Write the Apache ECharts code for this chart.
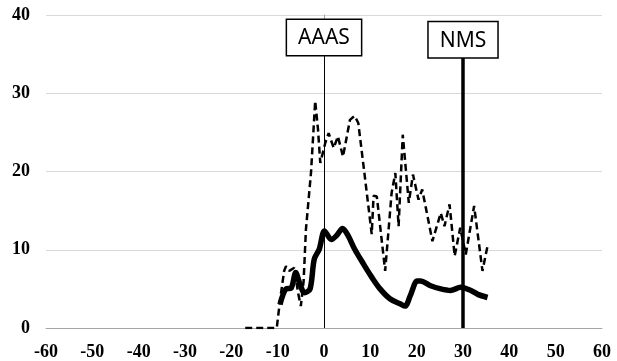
<!DOCTYPE html>
<html><head><meta charset="utf-8">
<script src="https://cdn.jsdelivr.net/npm/echarts@6/dist/echarts.min.js"></script>
<style>html,body{margin:0;padding:0;background:#fff}#c{width:617px;height:361px}</style>
</head><body><div id="c"></div>
<script>
const dashedX = [-17, -10.2, -9.5, -8.6, -8.2, -7.5, -6.4, -5.6, -5.0, -4.4, -3.9, -2.8, -1.9, -1.3, -0.8, 0.3, 1.0, 2.1, 3.0, 4.1, 5.6, 6.6, 7.4, 8.8, 10.3, 10.7, 11.4, 13.2, 14.6, 15.4, 16.1, 17.0, 18.3, 19.2, 20.4, 21.2, 23.4, 25.2, 26.0, 27.1, 28.2, 29.4, 30.6, 32.4, 34.2, 35.3];
const dashedY = [0, 0, 3.5, 7.3, 7.9, 7.3, 7.7, 4.5, 2.8, 6, 12.6, 19.9, 29, 25.4, 21.1, 23.7, 24.9, 23, 24.5, 21.9, 26.6, 27.1, 26.2, 19.4, 12, 16.9, 16.8, 7.3, 17.3, 19.8, 13, 24.7, 16, 19.6, 16.4, 17.7, 11.1, 14.7, 13, 15.8, 9.2, 12.8, 9.4, 15.6, 7.3, 10.5];
const solidX = [-9.5, -8.2, -7.1, -6.1, -5.3, -4.2, -3.0, -2.1, -1.0, 0.1, 1.6, 2.7, 4.0, 5.2, 6.6, 8.5, 10.3, 12.1, 14.3, 16.4, 17.5, 18.6, 20.1, 20.8, 23, 25.2, 27.3, 29.5, 31.7, 33.2, 35.3];
const solidY = [3.0, 5.0, 5.1, 7.1, 5.8, 4.5, 5, 8.8, 10.1, 12.4, 11.3, 11.8, 12.7, 11.8, 10.1, 8.2, 6.5, 5, 3.7, 3.1, 2.8, 4.1, 6.0, 6.0, 5.4, 5.0, 4.8, 5.2, 4.8, 4.3, 3.9];
const events = ['AAAS', 'NMS'];
const eventX = [0, 30];
const eventTop = [34.9, 34.6];
const eventWidth = [1, 3.5];

const chart = echarts.init(document.getElementById('c'));
const labelFont = {fontFamily: 'Liberation Serif', fontWeight: 'bold', fontSize: 18, color: '#000'};
chart.setOption({
  animation: false,
  grid: {left: 46, right: 15, top: 15, bottom: 32},
  xAxis: {
    type: 'value', min: -60, max: 60, interval: 10,
    axisLine: {show: true, onZero: false, lineStyle: {color: '#a6a6a6', width: 1}},
    axisTick: {show: false},
    splitLine: {show: false},
    axisLabel: Object.assign({margin: 15}, labelFont)
  },
  yAxis: {
    type: 'value', min: 0, max: 40, interval: 10,
    axisLine: {show: true, lineStyle: {color: '#a6a6a6', width: 1}},
    axisTick: {show: false},
    splitLine: {show: true, lineStyle: {color: '#d9d9d9', width: 1}},
    axisLabel: Object.assign({margin: 16}, labelFont)
  },
  series: [
    {
      type: 'line', symbol: 'none',
      data: dashedX.map((x, i) => [x, dashedY[i]]),
      lineStyle: {color: '#000', width: 2.5, type: [7, 4]}
    },
    {
      type: 'line', symbol: 'none', smooth: 0.3,
      data: solidX.map((x, i) => [x, solidY[i]]),
      lineStyle: {color: '#000', width: 5.5},
      markLine: {
        silent: true, symbol: 'none',
        data: events.map((name, i) => [
          {coord: [eventX[i], 0], lineStyle: {color: '#000', width: eventWidth[i], type: 'solid'},
           label: {show: true, position: 'end', formatter: name, distance: 0,
             fontFamily: 'Noto Sans', fontSize: 21, color: '#000',
             backgroundColor: '#fff', borderColor: '#000', borderWidth: 1.5,
             padding: [8, 11, 6, 11]}},
          {coord: [eventX[i], eventTop[i]]}
        ])
      }
    }
  ]
});
</script></body></html>
